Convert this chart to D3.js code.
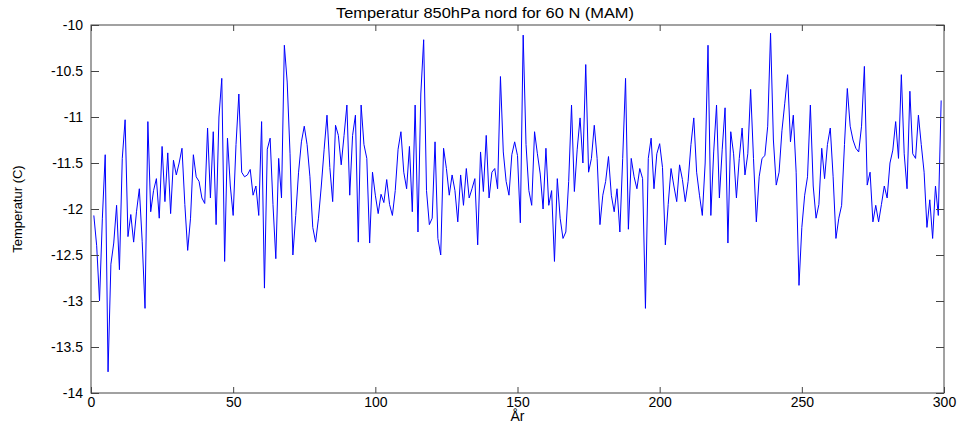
<!DOCTYPE html>
<html><head><meta charset="utf-8">
<script src="https://cdn.jsdelivr.net/npm/d3@7/dist/d3.min.js"></script>
<style>
body{margin:0;background:#fff}
text{font-family:"Liberation Sans",Arial,sans-serif}
</style>
</head><body>
<svg id="c" width="973" height="429"></svg>
<script>
// Temperature (C) at 850 hPa, one value per year (years 1..299)
const values = [
-12.07,-12.4,-13.0,-12.1,-11.41,-13.77,-12.6,-12.37,-11.96,-12.66,
-11.45,-11.03,-12.3,-12.06,-12.36,-12.03,-11.78,-12.35,-13.08,-11.05,
-12.03,-11.8,-11.67,-12.1,-11.32,-11.92,-11.39,-12.05,-11.47,-11.63,
-11.5,-11.34,-11.95,-12.45,-12.1,-11.41,-11.65,-11.7,-11.88,-11.94,
-11.12,-11.88,-11.16,-12.17,-11.0,-10.58,-12.57,-11.23,-11.75,-12.07,
-11.3,-10.75,-11.6,-11.65,-11.63,-11.57,-11.85,-11.75,-12.07,-11.05,
-12.86,-11.35,-11.23,-11.95,-12.54,-11.45,-11.88,-10.22,-10.62,-11.4,
-12.5,-12.07,-11.6,-11.27,-11.1,-11.3,-11.65,-12.2,-12.36,-12.1,
-11.75,-11.35,-10.98,-11.55,-11.92,-11.09,-11.2,-11.52,-11.2,-10.87,
-11.85,-11.2,-10.98,-12.36,-10.87,-11.3,-11.45,-12.37,-11.6,-11.85,
-12.05,-11.84,-11.93,-11.68,-11.95,-12.07,-11.8,-11.35,-11.16,-11.6,
-11.78,-11.32,-12.03,-10.87,-12.25,-10.75,-10.16,-11.8,-12.17,-12.1,
-11.27,-12.32,-12.5,-11.34,-11.56,-11.85,-11.63,-11.8,-12.14,-11.63,
-11.96,-11.56,-11.88,-11.78,-11.67,-12.39,-11.38,-11.81,-11.2,-11.88,
-11.6,-11.56,-11.78,-10.56,-11.38,-11.7,-11.85,-11.41,-11.27,-11.42,
-12.15,-10.11,-11.3,-11.8,-11.96,-11.16,-11.4,-11.62,-12.0,-11.34,
-11.96,-11.8,-12.57,-11.67,-12.1,-12.32,-12.25,-11.7,-10.87,-11.81,
-11.35,-11.01,-11.5,-10.43,-11.6,-11.45,-11.09,-11.45,-12.17,-11.85,
-11.7,-11.43,-11.85,-12.03,-11.78,-12.25,-11.45,-10.58,-12.22,-11.45,
-11.65,-11.78,-11.56,-11.67,-13.08,-11.45,-11.23,-11.78,-11.4,-11.29,
-11.55,-12.39,-11.95,-11.56,-11.75,-11.92,-11.52,-11.68,-11.92,-11.7,
-11.3,-11.01,-11.6,-11.85,-12.07,-11.5,-10.22,-12.07,-11.38,-10.87,
-11.88,-11.35,-10.9,-12.37,-11.16,-11.4,-11.88,-11.45,-11.12,-11.63,
-11.4,-10.7,-11.45,-12.14,-11.65,-11.45,-11.42,-11.1,-10.09,-11.25,
-11.74,-11.6,-11.15,-10.85,-10.54,-11.27,-10.98,-11.6,-12.83,-12.2,
-11.85,-11.65,-10.87,-11.75,-12.1,-11.95,-11.34,-11.67,-11.3,-11.12,
-11.65,-12.32,-12.1,-11.96,-11.3,-10.69,-11.1,-11.25,-11.34,-11.38,
-11.1,-10.45,-11.74,-11.6,-12.14,-11.96,-12.14,-11.95,-11.75,-11.88,
-11.5,-11.36,-11.05,-11.45,-10.54,-11.4,-11.78,-10.72,-11.4,-11.45,
-10.98,-11.3,-11.6,-12.2,-11.9,-12.32,-11.75,-12.07,-10.82
];
const years = values.map((v, i) => i + 1);
const xTicks = [0, 50, 100, 150, 200, 250, 300];
const yTicks = [-14, -13.5, -13, -12.5, -12, -11.5, -11, -10.5, -10];
const yTickLabels = ["-14", "-13.5", "-13", "-12.5", "-12", "-11.5", "-11", "-10.5", "-10"];
const titleText = "Temperatur 850hPa nord for 60 N (MAM)";
const xLabel = "År";
const yLabel = "Temperatur (C)";

const L = 91, R = 944, T = 25, B = 393;
const svg = d3.select("#c");
const x = d3.scaleLinear().domain([0, 300]).range([L, R]);
const y = d3.scaleLinear().domain([-14, -10]).range([B, T]);

// data line
const line = d3.line().x((d, i) => x(years[i])).y(d => y(d));
svg.append("path").datum(values)
  .attr("fill", "none").attr("stroke", "#0000ff").attr("stroke-width", 1)
  .attr("d", line);

const axisColor = "#444";
function styleAxis(g){
  g.select(".domain").remove();
  g.selectAll(".tick line").attr("stroke", axisColor);
  g.selectAll(".tick text").attr("fill", "#000").style("font-size", "14px");
}
// bottom
svg.append("g").attr("transform", `translate(0,${B})`)
  .call(d3.axisBottom(x).tickValues(xTicks).tickFormat(d3.format("d")).tickSizeInner(-6).tickSizeOuter(0).tickPadding(4))
  .call(styleAxis);
// top
svg.append("g").attr("transform", `translate(0,${T})`)
  .call(d3.axisTop(x).tickValues(xTicks).tickFormat("").tickSizeInner(-6).tickSizeOuter(0))
  .call(styleAxis);
// left
svg.append("g").attr("transform", `translate(${L},0)`)
  .call(d3.axisLeft(y).tickValues(yTicks).tickFormat((d, i) => yTickLabels[i]).tickSizeInner(-8).tickSizeOuter(0).tickPadding(8))
  .call(styleAxis);
// right
svg.append("g").attr("transform", `translate(${R},0)`)
  .call(d3.axisRight(y).tickValues(yTicks).tickFormat("").tickSizeInner(-8).tickSizeOuter(0))
  .call(styleAxis);

// box
svg.append("rect").attr("x", L).attr("y", T).attr("width", R - L).attr("height", B - T)
  .attr("fill", "none").attr("stroke", axisColor).attr("stroke-width", 1);

// labels
svg.append("text").attr("x", 485).attr("y", 18).attr("text-anchor", "middle")
  .attr("textLength", 298).attr("lengthAdjust", "spacingAndGlyphs")
  .style("font-size", "14px").text(titleText);
svg.append("text").attr("x", (L + R) / 2).attr("y", 421).attr("text-anchor", "middle")
  .style("font-size", "14px").text(xLabel);
svg.append("text").attr("transform", `translate(22,${(T + B) / 2}) rotate(-90)`)
  .attr("text-anchor", "middle").style("font-size", "13px").text(yLabel);
</script>
</body></html>
